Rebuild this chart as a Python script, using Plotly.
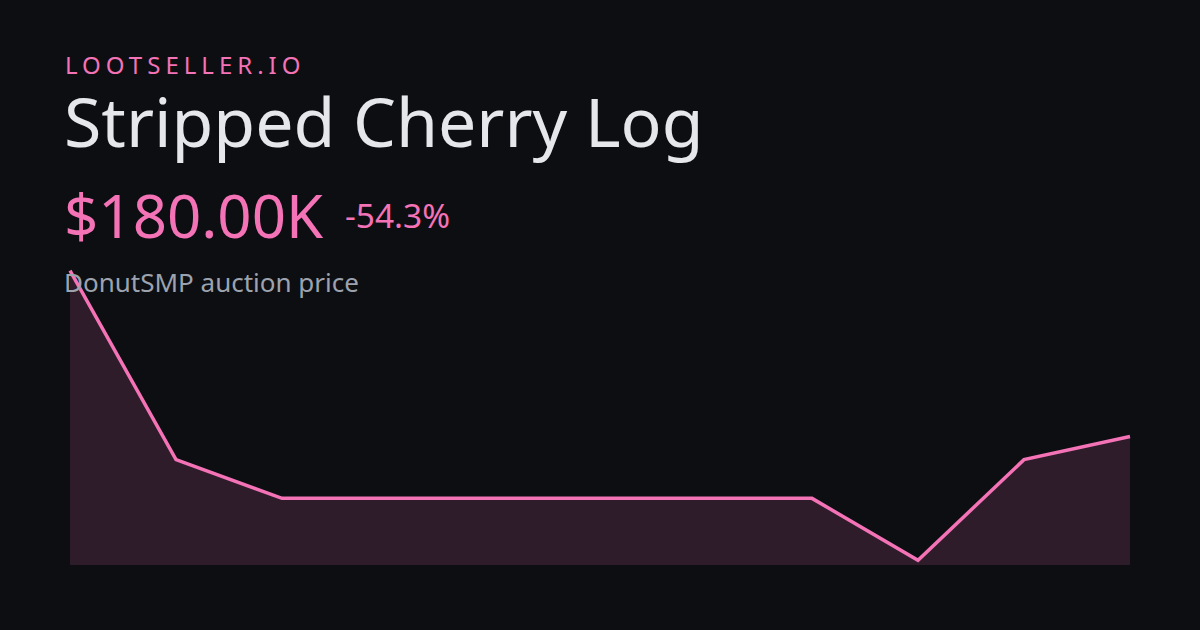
import plotly.graph_objects as go

# ---- data ----
days = list(range(11))
prices = [394000, 150000, 100000, 100000, 100000, 100000, 100000, 100000, 20000, 150000, 180000]
brand = "LOOTSELLER.IO"
item_name = "Stripped Cherry Log"
current_price = "$180.00K"
change_label = "-54.3%"
subtitle = "DonutSMP auction price"

# ---- layout helpers ----
W, H = 1200, 630
L_PX, R_PX, T_PX, B_PX = 68, 1132, 268, 565.5

def px(x, y):
    return (x - L_PX) / (R_PX - L_PX), (B_PX - y) / (B_PX - T_PX)

BG = "#0d0e12"
PINK = "#f472b6"
FONT = "Noto Sans"

fig = go.Figure()
fig.add_trace(go.Scatter(
    x=days, y=prices, mode="lines",
    line=dict(color=PINK, width=3.5),
    fill="tozeroy", fillcolor="rgba(244,114,182,0.15)",
    hoverinfo="skip",
))

pad_x = 2 / 106
ppk = 0.7757 / 1000  # pixels per unit
ymax = prices[0] + 2.7 / ppk
ymin = 180000 - (565.5 - 436.7) / ppk

def ann(text, x, y, size, color, **kw):
    ax, ay = px(x, y)
    fig.add_annotation(text=text, x=ax, y=ay, xref="paper", yref="paper",
                       xanchor="left", yanchor="middle", showarrow=False,
                       font=dict(family=FONT, size=size, color=color), **kw)

ann(f'<span style="letter-spacing:5px">{brand}</span>', 63, 64, 24, PINK)
ann(item_name, 62, 120, 68, "#e5e7eb")
ann(current_price, 62, 215, 60, PINK)
ann(change_label, 343, 215, 33.5, PINK)
ann(subtitle, 62, 282, 26, "#9ca3af")

fig.update_layout(
    width=W, height=H,
    paper_bgcolor=BG, plot_bgcolor=BG,
    margin=dict(l=L_PX, r=W - R_PX, t=T_PX, b=H - B_PX, pad=0),
    showlegend=False,
    xaxis=dict(range=[-pad_x, 10 + pad_x], visible=False, fixedrange=True),
    yaxis=dict(range=[ymin, ymax], visible=False, fixedrange=True),
)

fig.write_html(
    "out.html",
    config={"displayModeBar": False},
    post_script="document.body.style.margin='0';document.body.style.background='%s';" % BG,
)
